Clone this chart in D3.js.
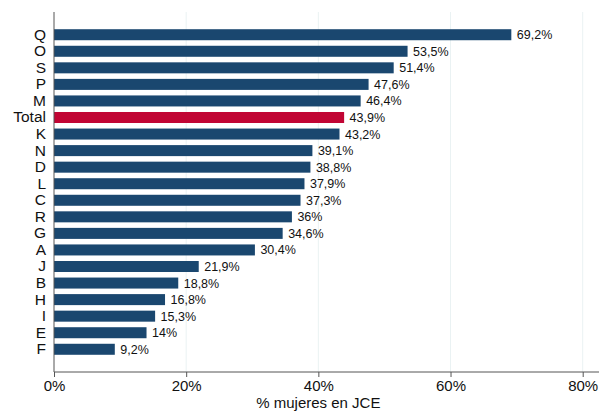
<!DOCTYPE html>
<html><head><meta charset="utf-8">
<script src="https://cdn.jsdelivr.net/npm/d3@7"></script>
<style>body{margin:0;background:#fff}svg{display:block}text{font-family:"Liberation Sans",Arial,Helvetica,sans-serif}</style>
</head><body>
<script>
const categories = ["Q","O","S","P","M","Total","K","N","D","L","C","R","G","A","J","B","H","I","E","F"];
const values = [69.2,53.5,51.4,47.6,46.4,43.9,43.2,39.1,38.8,37.9,37.3,36,34.6,30.4,21.9,18.8,16.8,15.3,14,9.2];
const labels = ["69,2%","53,5%","51,4%","47,6%","46,4%","43,9%","43,2%","39,1%","38,8%","37,9%","37,3%","36%","34,6%","30,4%","21,9%","18,8%","16,8%","15,3%","14%","9,2%"];
const xTicks = [0,20,40,60,80];
const xTickLabels = ["0%","20%","40%","60%","80%"];

(function(){
const W=607,H=414;
const mL=54, mT=12, mB=372, mR=599;
const svg=d3.select("body").append("svg").attr("width",W).attr("height",H);
const x=d3.scaleLinear().domain([0,80]).range([mL,582.7]);
const y=d3.scaleBand().domain(categories).range([mT,mB]).paddingInner(0.335).paddingOuter(1.04);

// gridlines
svg.append("g").selectAll("line").data(xTicks.filter(d=>d>0)).join("line")
  .attr("x1",d=>x(d)).attr("x2",d=>x(d)).attr("y1",mT).attr("y2",mB)
  .attr("stroke","#eaf2f3").attr("stroke-width",1);

// bars
svg.append("g").selectAll("rect").data(categories).join("rect")
  .attr("x",x(0)).attr("y",d=>y(d)).attr("height",y.bandwidth())
  .attr("width",(d,i)=>x(values[i])-x(0))
  .attr("fill",d=>d==="Total"?"#c10534":"#1a476f");

// value labels
svg.append("g").selectAll("text").data(categories).join("text")
  .attr("x",(d,i)=>x(values[i])+5.5).attr("y",d=>y(d)+y.bandwidth()/2)
  .attr("dy","0.36em").attr("font-size","12.5px").attr("fill","#111")
  .text((d,i)=>labels[i]);

// x axis
const xa=d3.axisBottom(x).tickValues(xTicks).tickFormat((d,i)=>xTickLabels[i]).tickSize(5).tickSizeOuter(0);
const gx=svg.append("g").attr("transform",`translate(0,${mB})`).call(xa);
gx.select(".domain").remove();
gx.append("line").attr("x1",mL).attr("x2",mR).attr("y1",0).attr("y2",0).attr("stroke","#555");
gx.selectAll(".tick line").attr("stroke","#555");
gx.selectAll(".tick text").attr("font-size","15px").attr("fill","#111").attr("y",8).attr("font-family",'"Liberation Sans",Arial,sans-serif');

// y axis
const ya=d3.axisLeft(y).tickSize(0).tickPadding(8);
const gy=svg.append("g").attr("transform",`translate(${mL},0)`).call(ya);
gy.select(".domain").remove();
gy.append("line").attr("x1",0).attr("x2",0).attr("y1",mT).attr("y2",mB).attr("stroke","#555");
gy.selectAll(".tick text").attr("font-size","15.5px").attr("fill","#111").attr("font-family",'"Liberation Sans",Arial,sans-serif');

// axis title
svg.append("text").attr("x",(mL+582.7)/2).attr("y",408).attr("text-anchor","middle")
  .attr("font-size","15px").attr("fill","#111").text("% mujeres en JCE");
})();
</script>
</body></html>
